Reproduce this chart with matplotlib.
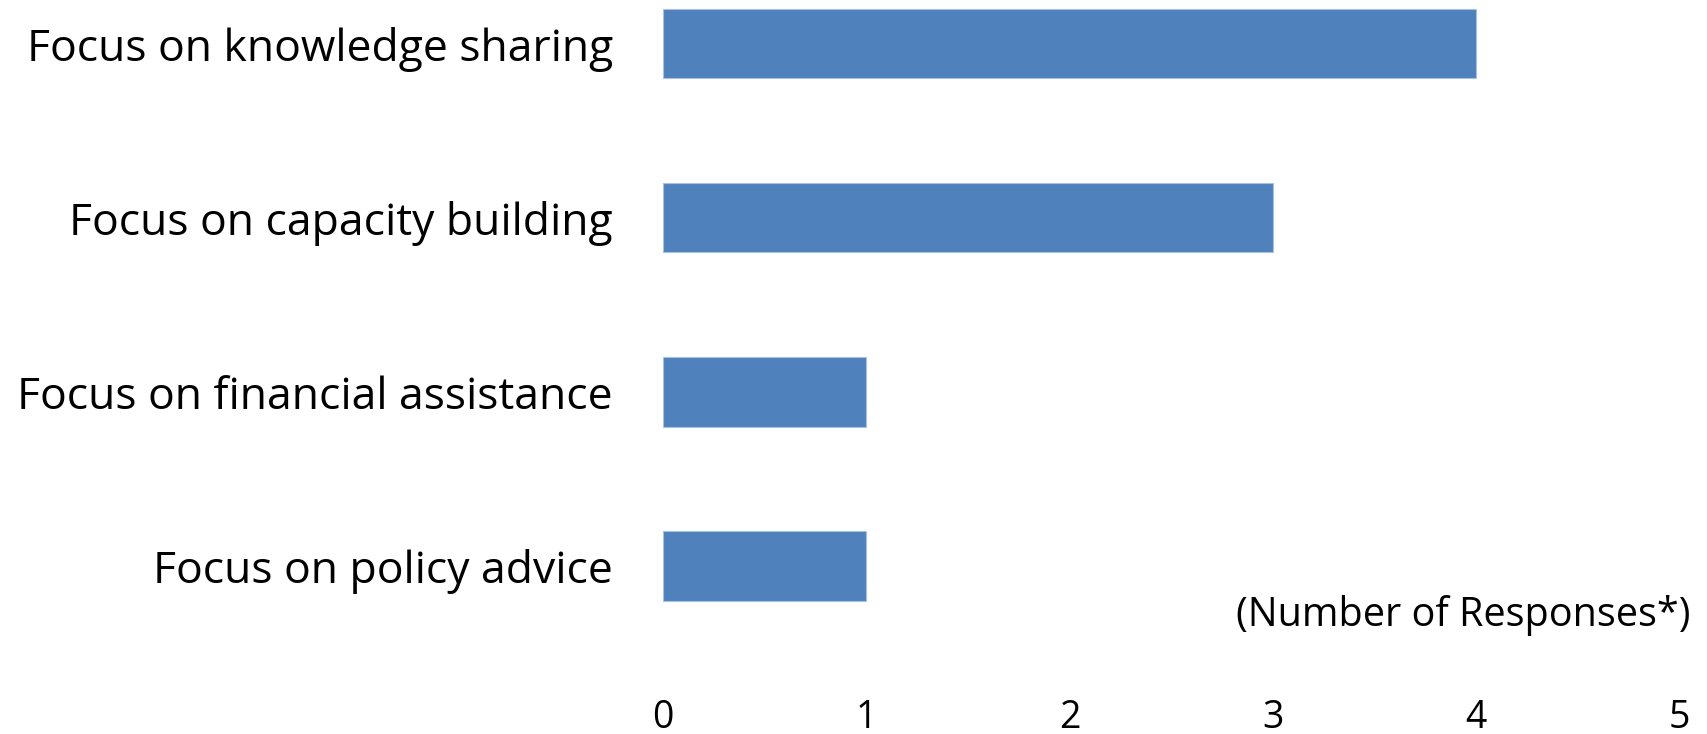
import matplotlib.pyplot as plt

# data, top to bottom
categories = ["Focus on knowledge sharing", "Focus on capacity building",
              "Focus on financial assistance", "Focus on policy advice"]
responses = [4, 3, 1, 1]
x_ticks = [0, 1, 2, 3, 4, 5]

W, H = 1707, 734
fig = plt.figure(figsize=(W / 100, H / 100), dpi=100)
plt.rcParams['font.family'] = ['Open Sans', 'DejaVu Sans']

# axes box in pixels: left 663, right 1679, top 0, bottom 653
ax = fig.add_axes([663 / W, 81 / H, (1679 - 663) / W, 653 / H])
ax.barh(range(len(categories)), responses, height=0.4,
        color='#4F81BD', edgecolor='#A9C0E0', linewidth=0.8)

ax.set_xlim(0, 5)
ax.set_ylim(3.5, -0.25)
ax.set_xticks(x_ticks)
ax.set_yticks(range(len(categories)))
ax.set_yticklabels(categories, fontsize=32)
ax.tick_params(axis='y', length=0, pad=36)
ax.tick_params(axis='x', length=0, pad=33, labelsize=27)
for s in ax.spines.values():
    s.set_visible(False)

fig.text(1690 / W, 1 - 615 / H, "(Number of Responses*)", fontsize=28.5,
         ha='right', va='center')

fig.savefig("out.png", dpi=100)
